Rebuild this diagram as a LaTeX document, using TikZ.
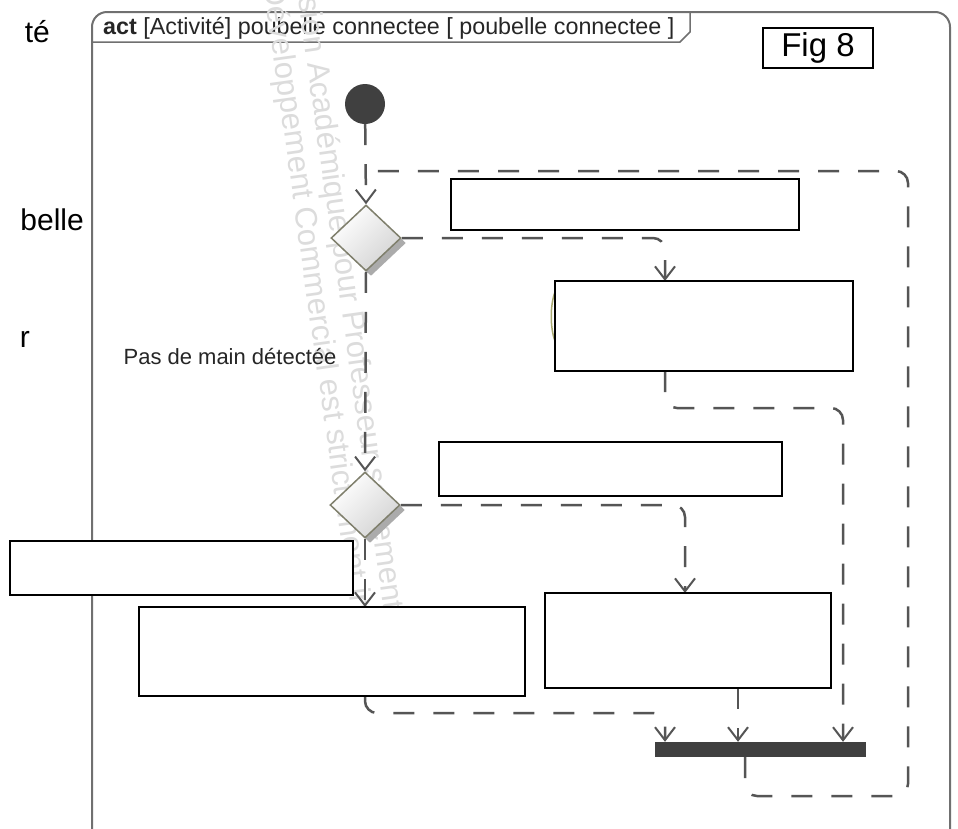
\documentclass[tikz,border=0pt]{standalone}
\usepackage{fontspec}
\setmainfont{Liberation Sans}
\usetikzlibrary{arrows.meta,shapes.geometric,shadows}
\definecolor{flowc}{HTML}{555555}
\definecolor{barc}{HTML}{404040}
\definecolor{dcol}{HTML}{7F7F6C}
\definecolor{framec}{HTML}{707070}
\definecolor{wmc}{HTML}{DCDCDC}
\definecolor{olivec}{HTML}{A8A870}
\begin{document}
\begin{tikzpicture}[x=1pt,y=-1pt,
  flow/.style={draw=flowc, line width=2.5pt, dash pattern=on 21pt off 19pt,
    rounded corners=12pt, -{Straight Barb[length=13pt,width=20pt,line width=2pt]}},
  flown/.style={draw=flowc, line width=2.5pt, dash pattern=on 21pt off 19pt, rounded corners=12pt},
  box/.style={rectangle, draw=black, line width=2pt, fill=white, inner sep=0pt},
  decision/.style={diamond, draw=dcol, line width=1.5pt, inner sep=0pt,
    minimum width=70pt, minimum height=66pt, top color=white, bottom color=black!17,
    shading angle=45, drop shadow={shadow xshift=5pt, shadow yshift=-5pt, fill=black!33, opacity=1}},
  wm/.style={text=wmc, font=\fontsize{31}{31}\selectfont, inner sep=0pt, anchor=base west, rotate=-82},
  doctext/.style={font=\fontsize{30}{30}\selectfont, inner sep=0pt, anchor=base east}
]
\useasboundingbox (0,0) rectangle (958,828);
\fill[white] (0,0) rectangle (958,828);

% cropped document text at left
\node[doctext] (t1) at (50,42) {té};
\node[doctext] (t2) at (84,230) {belle};
\node[doctext] (t3) at (30,347) {r};

% frame and header
\draw[framec, line width=2pt, rounded corners=15pt] (92,829) -- (92,12) -- (950,12) -- (950,829);
\draw[framec, line width=1.5pt] (92,42) -- (680,42) -- (690,32) -- (690,12);
\node[anchor=west, inner sep=0pt, text=black!85, font=\fontsize{23.3}{25}\selectfont] (hdr) at (103,28)
  {\textbf{act} [Activité] poubelle connectee [ poubelle connectee ]};

% watermark
\node[wm] (wm1) at (291.5,-48) {Version Académique pour Professeur seulement};
\node[wm] (wm2) at (263.4,-15) {Développement Commercial est strictement interdit};

% nodes
\node[circle, fill=barc, minimum size=40pt, inner sep=0pt] (init) at (365,104) {};
\node[decision] (d1) at (366,238) {};
\node[decision] (d2) at (365,505) {};
\node[rectangle, fill=barc, minimum width=211pt, minimum height=15pt, inner sep=0pt] (bar) at (760.5,749.5) {};
\coordinate (loopend) at (366,171);

% connectors
\draw[flow] (init) -- (d1.north);
\draw[flow] (d1.south) -- (d2.north);
\draw[flow] (d1.east) -| (665,281);
\draw[flow] (665,371) -- (665,408) -| (bar.north -| 843,0);
\draw[flow] (d2.east) -| (685,593);
\draw[flow] (d2.south) -- (365,607);
\draw[flow] (365,696) -- (365,713) -| (bar.north -| 665,0);
\draw[flow] (738,688) -- (bar.north -| 738,0);
\draw[flown] (bar.south -| 745,0) -- (745,796) -- (908,796) -- (908,171) -- (loopend);

\node[inner sep=0pt, text=black!85, font=\fontsize{22}{24}\selectfont] (lbl) at (230,356) {Pas de main détectée};

% remnant of hidden action
\draw[olivec, line width=1.5pt] (555,292) .. controls (550,305) and (550,328) .. (555,341);

% blank boxes
\node[box, minimum width=348pt, minimum height=51pt] (A) at (625,204.5) {};
\node[box, minimum width=298pt, minimum height=90pt] (B) at (704,326) {};
\node[box, minimum width=343pt, minimum height=54pt] (C) at (610.5,469) {};
\node[box, minimum width=343pt, minimum height=54pt] (D) at (181.5,568) {};
\node[box, minimum width=386pt, minimum height=89pt] (E) at (332,651.5) {};
\node[box, minimum width=286pt, minimum height=95pt] (F) at (688,640.5) {};
\node[box, minimum width=110pt, minimum height=40pt, font=\fontsize{33}{33}\selectfont] (fig) at (818,48) {Fig 8};
\end{tikzpicture}
\end{document}
